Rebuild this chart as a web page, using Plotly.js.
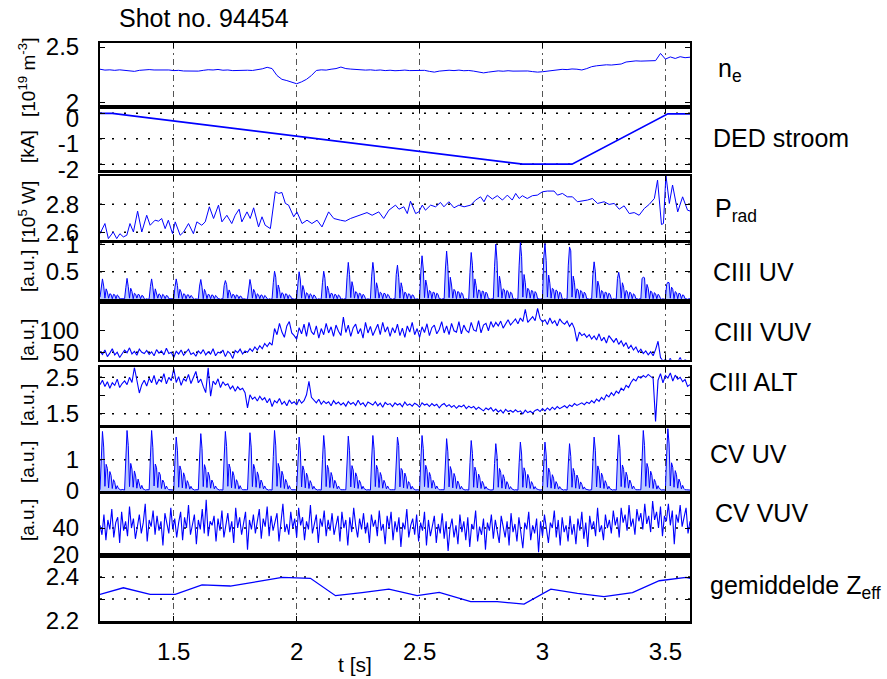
<!DOCTYPE html>
<html><head><meta charset="utf-8">
<script src="https://cdn.plot.ly/plotly-3.0.1.min.js"></script>
<style>html,body{margin:0;padding:0;background:#fff}</style>
</head><body><div id="chart" style="width:887px;height:679px"></div>
<script>
// ---------------- DATA ----------------
const T0 = 1.2;                       // first sample time [s]
const xTicks = [1.5, 2, 2.5, 3, 3.5];
const xTickText = ['1.5', '2', '2.5', '3', '3.5'];

// n_e [10^19 m^-3], sampled every 0.02 s
const neDt = 0.02;
const ne = [2.295,2.288,2.290,2.286,2.290,2.287,2.280,2.278,2.286,2.290,
2.292,2.289,2.291,2.287,2.289,2.284,2.286,2.281,2.279,2.283,
2.280,2.286,2.291,2.289,2.293,2.287,2.289,2.284,2.286,2.283,
2.287,2.285,2.290,2.298,2.310,2.300,2.245,2.215,2.205,2.190,
2.180,2.195,2.215,2.245,2.285,2.290,2.288,2.295,2.300,2.312,
2.300,2.296,2.292,2.294,2.288,2.290,2.286,2.289,2.284,2.287,
2.283,2.285,2.288,2.284,2.286,2.283,2.286,2.278,2.272,2.280,
2.285,2.287,2.284,2.288,2.283,2.285,2.280,2.272,2.266,2.272,
2.280,2.282,2.279,2.283,2.280,2.282,2.278,2.281,2.276,2.272,
2.275,2.280,2.286,2.290,2.294,2.292,2.297,2.295,2.289,2.300,
2.315,2.322,2.326,2.330,2.328,2.332,2.336,2.352,2.358,2.361,
2.359,2.362,2.360,2.363,2.420,2.375,2.392,2.380,2.394,2.386,
2.390];

// DED current [kA]
const dedT = [1.20, 1.25, 2.92, 3.12, 3.51, 3.60];
const dedKA = [0.00, 0.00, -2.00, -2.00, -0.02, -0.02];

// P_rad [10^5 W]
const pradT = [1.200,1.220,1.234,1.254,1.268,1.281,1.295,1.309,1.322,1.336,1.353,1.370,1.390,1.404,1.424,1.438,1.451,1.465,1.478,1.495,
1.506,1.526,1.540,1.560,1.580,1.594,1.614,1.628,1.645,1.662,1.682,1.696,1.716,1.736,1.750,1.766,1.777,1.798,1.811,1.825,
1.845,1.859,1.872,1.893,1.913,1.927,1.940,1.954,1.967,1.988,2.001,2.022,2.042,2.062,2.083,2.103,2.130,2.151,2.178,2.198,
2.219,2.239,2.266,2.286,2.307,2.334,2.354,2.375,2.402,2.416,2.436,2.450,2.463,2.484,2.497,2.511,2.524,2.545,2.565,2.585,
2.599,2.619,2.640,2.660,2.681,2.708,2.728,2.748,2.762,2.776,2.796,2.816,2.837,2.857,2.877,2.891,2.905,2.918,2.938,2.959,
2.979,3.000,3.020,3.047,3.061,3.081,3.101,3.122,3.142,3.163,3.183,3.203,3.224,3.251,3.271,3.292,3.312,3.332,3.353,3.373,
3.393,3.414,3.434,3.455,3.468,3.484,3.492,3.502,3.516,3.529,3.550,3.570,3.590,3.611];
const prad = [2.590,2.662,2.555,2.602,2.555,2.590,2.567,2.579,2.662,2.602,2.750,2.602,2.721,2.650,2.686,2.679,2.698,2.626,2.686,2.590,
2.674,2.579,2.602,2.662,2.590,2.674,2.650,2.674,2.781,2.698,2.793,2.674,2.721,2.662,2.721,2.764,2.674,2.745,2.698,2.774,
2.638,2.710,2.650,2.626,2.888,2.876,2.883,2.805,2.793,2.710,2.745,2.662,2.686,2.662,2.686,2.638,2.745,2.698,2.686,2.679,
2.698,2.710,2.726,2.740,2.721,2.745,2.698,2.757,2.793,2.764,2.781,2.733,2.821,2.733,2.745,2.793,2.757,2.793,2.781,2.812,
2.781,2.817,2.774,2.793,2.781,2.793,2.829,2.852,2.817,2.864,2.836,2.860,2.829,2.864,2.829,2.876,2.840,2.860,2.840,2.860,
2.864,2.888,2.893,2.893,2.864,2.876,2.852,2.852,2.817,2.821,2.829,2.840,2.805,2.817,2.798,2.805,2.764,2.788,2.733,2.740,
2.721,2.769,2.798,2.840,2.971,2.655,2.662,3.007,2.805,2.936,2.745,2.852,2.757,2.745];

// CIII UV and CV UV [a.u.], sampled every 0.005 s (one row = one 0.1 s pulse)
const pulseDt = 0.005;
const ciiiUV = [
0.04,0.22,0.37,0.24,0.02,0.19,0.13,0.02,0.10,0.09,0.01,0.09,0.08,0.01,0.08,0.06,0.01,0.01,0.01,0.00,
0.01,0.21,0.38,0.23,0.02,0.20,0.14,0.01,0.11,0.09,0.02,0.09,0.08,0.01,0.07,0.06,0.01,0.00,0.01,0.00,
0.01,0.23,0.37,0.22,0.01,0.19,0.12,0.02,0.10,0.08,0.01,0.09,0.07,0.01,0.07,0.06,0.01,0.01,0.00,0.01,
0.01,0.22,0.37,0.25,0.02,0.18,0.13,0.01,0.10,0.09,0.01,0.08,0.08,0.02,0.07,0.05,0.01,0.00,0.01,0.00,
0.01,0.24,0.36,0.22,0.01,0.18,0.12,0.01,0.09,0.08,0.01,0.08,0.07,0.01,0.07,0.05,0.01,0.01,0.00,0.01,
0.01,0.25,0.34,0.27,0.02,0.17,0.12,0.02,0.09,0.08,0.01,0.08,0.07,0.01,0.06,0.05,0.00,0.01,0.00,0.00,
0.01,0.26,0.36,0.24,0.02,0.18,0.13,0.01,0.10,0.08,0.01,0.08,0.07,0.01,0.07,0.05,0.01,0.00,0.01,0.00,
0.01,0.30,0.51,0.40,0.02,0.26,0.18,0.02,0.12,0.10,0.01,0.10,0.09,0.01,0.08,0.06,0.01,0.01,0.00,0.01,
0.01,0.28,0.50,0.35,0.02,0.25,0.17,0.01,0.12,0.10,0.01,0.10,0.08,0.01,0.08,0.06,0.01,0.00,0.01,0.00,
0.01,0.30,0.51,0.38,0.02,0.24,0.16,0.02,0.11,0.10,0.01,0.09,0.08,0.01,0.08,0.06,0.00,0.01,0.00,0.01,
0.01,0.40,0.67,0.45,0.03,0.32,0.22,0.02,0.14,0.12,0.01,0.11,0.10,0.01,0.09,0.07,0.01,0.00,0.01,0.00,
0.01,0.42,0.67,0.48,0.02,0.30,0.20,0.02,0.13,0.11,0.01,0.11,0.10,0.02,0.09,0.07,0.01,0.01,0.00,0.01,
0.01,0.45,0.62,0.40,0.02,0.30,0.20,0.01,0.13,0.11,0.01,0.10,0.09,0.01,0.08,0.07,0.01,0.00,0.01,0.00,
0.01,0.50,0.79,0.55,0.03,0.35,0.24,0.02,0.16,0.14,0.01,0.13,0.12,0.01,0.11,0.09,0.01,0.01,0.00,0.01,
0.01,0.55,0.875,0.60,0.03,0.40,0.26,0.02,0.18,0.15,0.01,0.14,0.13,0.02,0.12,0.10,0.01,0.00,0.01,0.00,
0.01,0.49,0.85,0.62,0.03,0.37,0.25,0.02,0.17,0.16,0.01,0.15,0.14,0.01,0.13,0.10,0.01,0.01,0.00,0.01,
0.01,0.60,1.00,0.70,0.04,0.42,0.28,0.02,0.19,0.17,0.01,0.16,0.14,0.02,0.13,0.11,0.01,0.00,0.01,0.00,
0.01,0.62,1.03,0.78,0.04,0.45,0.30,0.02,0.20,0.17,0.02,0.16,0.15,0.01,0.14,0.11,0.01,0.01,0.00,0.01,
0.01,0.75,1.01,0.70,0.04,0.44,0.29,0.02,0.20,0.18,0.01,0.17,0.15,0.01,0.13,0.11,0.01,0.00,0.01,0.00,
0.01,0.62,0.95,0.88,0.04,0.42,0.30,0.02,0.19,0.17,0.01,0.16,0.14,0.02,0.13,0.10,0.01,0.01,0.00,0.01,
0.01,0.45,0.68,0.50,0.03,0.33,0.24,0.02,0.16,0.14,0.01,0.13,0.12,0.01,0.11,0.09,0.01,0.00,0.01,0.00,
0.01,0.38,0.49,0.36,0.02,0.30,0.22,0.01,0.16,0.14,0.01,0.13,0.11,0.01,0.10,0.08,0.01,0.01,0.00,0.01,
0.01,0.38,0.40,0.39,0.02,0.27,0.20,0.01,0.15,0.13,0.01,0.12,0.10,0.01,0.09,0.07,0.01,0.00,0.01,0.00,
0.01,0.27,0.31,0.30,0.02,0.22,0.18,0.01,0.14,0.12,0.01,0.11,0.10,0.01,0.08,0.07,0.01,0.01,0.00,0.01,
0.01];
const cvUV = [
0.04,1.05,1.90,1.40,0.15,0.85,0.72,0.10,0.62,0.50,0.08,0.36,0.27,0.06,0.17,0.08,0.04,0.03,0.05,0.03,
0.03,1.00,1.93,1.45,0.14,0.88,0.70,0.12,0.64,0.48,0.09,0.38,0.26,0.07,0.18,0.07,0.05,0.03,0.04,0.03,
0.04,1.08,1.93,1.38,0.16,0.86,0.74,0.11,0.60,0.52,0.08,0.35,0.28,0.06,0.16,0.08,0.04,0.04,0.03,0.04,
0.03,0.98,1.72,1.30,0.12,0.80,0.66,0.10,0.58,0.45,0.08,0.33,0.24,0.06,0.15,0.07,0.04,0.03,0.04,0.03,
0.04,1.02,1.83,1.35,0.14,0.84,0.70,0.11,0.60,0.48,0.09,0.35,0.26,0.07,0.16,0.08,0.05,0.03,0.04,0.03,
0.03,1.05,1.90,1.42,0.15,0.86,0.72,0.10,0.62,0.49,0.08,0.36,0.27,0.06,0.17,0.08,0.04,0.04,0.03,0.04,
0.04,1.00,1.86,1.40,0.14,0.85,0.70,0.12,0.61,0.48,0.09,0.35,0.26,0.07,0.16,0.07,0.05,0.03,0.04,0.03,
0.03,1.10,1.93,1.44,0.15,0.88,0.73,0.11,0.63,0.50,0.08,0.37,0.27,0.06,0.17,0.08,0.04,0.04,0.03,0.04,
0.04,0.98,1.72,1.28,0.13,0.80,0.66,0.10,0.57,0.45,0.08,0.33,0.24,0.06,0.15,0.07,0.05,0.03,0.04,0.03,
0.03,1.00,1.77,1.32,0.14,0.82,0.68,0.11,0.59,0.46,0.09,0.34,0.25,0.07,0.16,0.08,0.04,0.04,0.03,0.04,
0.04,0.99,1.75,1.30,0.13,0.81,0.67,0.10,0.58,0.46,0.08,0.34,0.25,0.06,0.15,0.07,0.05,0.03,0.04,0.03,
0.03,1.02,1.77,1.33,0.14,0.82,0.68,0.11,0.59,0.47,0.09,0.34,0.25,0.07,0.16,0.08,0.04,0.04,0.03,0.04,
0.04,0.70,1.72,1.45,0.13,0.72,0.66,0.10,0.57,0.45,0.08,0.30,0.24,0.06,0.15,0.07,0.05,0.03,0.04,0.03,
0.03,0.95,1.77,1.35,0.14,0.82,0.68,0.11,0.59,0.46,0.09,0.34,0.25,0.07,0.16,0.08,0.04,0.04,0.03,0.04,
0.04,0.92,1.67,1.25,0.13,0.78,0.64,0.10,0.56,0.44,0.08,0.32,0.23,0.06,0.15,0.07,0.05,0.03,0.04,0.03,
0.03,0.90,1.61,1.20,0.12,0.76,0.62,0.10,0.54,0.42,0.08,0.31,0.23,0.06,0.14,0.07,0.04,0.04,0.03,0.04,
0.04,0.88,1.51,1.12,0.12,0.72,0.60,0.09,0.52,0.40,0.07,0.30,0.22,0.06,0.14,0.07,0.05,0.03,0.04,0.03,
0.03,0.90,1.56,1.18,0.12,0.74,0.61,0.10,0.53,0.41,0.08,0.30,0.22,0.06,0.14,0.07,0.04,0.04,0.03,0.04,
0.04,0.85,1.56,1.15,0.12,0.73,0.60,0.09,0.52,0.41,0.07,0.30,0.22,0.06,0.14,0.07,0.05,0.03,0.04,0.03,
0.03,0.86,1.51,1.10,0.12,0.72,0.59,0.09,0.51,0.40,0.07,0.29,0.21,0.06,0.13,0.06,0.04,0.04,0.03,0.04,
0.04,0.98,1.72,1.30,0.13,0.80,0.66,0.10,0.57,0.45,0.08,0.33,0.24,0.06,0.15,0.07,0.05,0.03,0.04,0.03,
0.03,1.02,1.79,1.35,0.14,0.83,0.69,0.11,0.60,0.47,0.09,0.35,0.25,0.07,0.16,0.08,0.04,0.04,0.03,0.04,
0.04,1.10,1.93,1.45,0.15,0.88,0.73,0.11,0.63,0.50,0.08,0.37,0.27,0.06,0.17,0.08,0.05,0.03,0.04,0.03,
0.03,1.15,1.99,1.50,0.16,0.90,0.75,0.12,0.65,0.52,0.09,0.38,0.28,0.07,0.18,0.08,0.04,0.04,0.03,0.04,
0.03];

// CIII VUV and CIII ALT [a.u.], sampled every 0.01 s
const sigDt = 0.01;
const ciiiVUV = [
52,45,55,40,48,58,44,50,38,47, 55,49,60,46,52,43,57,50,47,54,
45,51,42,56,48,53,44,59,47,50, 38,52,46,55,43,50,57,45,49,41,
53,47,56,44,51,46,58,42,50,48, 55,40,52,47,36,54,49,57,46,53,
50,58,52,62,55,65,58,70,63,72, 66,104,90,116,96,84,110,120,94,88,
80,106,92,114,86,118,97,90,110,82, 104,90,116,94,108,86,112,98,88,130,
95,112,86,106,114,92,104,82,118,94, 109,88,102,114,90,118,96,108,86,106,
94,114,88,105,84,110,96,118,90,104, 84,108,95,115,88,106,112,92,102,120,
94,110,90,116,99,96,120,92,112,100, 95,118,101,98,122,94,112,116,99,120,
107,118,110,121,105,116,124,112,119,126, 115,128,120,148,118,125,131,122,150,127,
119,124,113,128,116,122,110,126,118,114, 121,109,117,104,75,96,88,92,84,90,
80,87,78,92,76,84,71,88,79,73, 82,68,76,64,72,58,66,55,62,50,
57,47,53,44,51,42,56,75,38,30, 34,27,36,24,31,28,38,25,33,29,26];
const ciiiALT = [
2.30,2.42,2.25,2.38,2.20,2.35,2.28,2.45,2.22,2.33, 2.40,2.30,2.50,2.36,2.77,2.45,2.07,2.30,2.42,2.26,
2.48,2.35,2.55,2.30,2.44,2.38,2.60,2.32,2.50,2.41, 2.74,2.36,2.52,2.28,2.46,2.40,2.58,2.33,2.48,2.66,
2.35,2.45,2.25,2.08,2.76,1.98,2.40,2.30,2.46,2.22, 2.38,2.28,2.32,2.18,2.26,2.12,2.24,2.16,2.20,2.08,
1.66,2.02,1.90,1.96,1.85,1.98,1.88,1.94,1.80,1.92, 1.70,1.86,1.80,1.92,1.76,1.84,1.72,1.88,1.78,1.83,
1.74,1.90,1.79,1.86,2.02,2.39,1.95,1.88,1.80,1.90, 1.76,1.85,1.78,1.83,1.72,1.86,1.77,1.82,1.74,1.80,
1.71,1.84,1.76,1.81,1.73,1.87,1.75,1.80,1.70,1.82, 1.77,1.74,1.83,1.72,1.79,1.68,1.81,1.75,1.78,1.70,
1.80,1.74,1.78,1.69,1.82,1.73,1.77,1.71,1.79,1.75, 1.68,1.80,1.74,1.77,1.70,1.78,1.72,1.76,1.66,1.74,
1.78,1.70,1.75,1.68,1.73,1.65,1.72,1.69,1.74,1.64, 1.71,1.66,1.70,1.62,1.68,1.64,1.58,1.66,1.61,1.67,
1.57,1.63,1.55,1.60,1.52,1.62,1.56,1.59,1.54,1.61, 1.55,1.58,1.50,1.60,1.53,1.57,1.52,1.59,1.62,1.56,
1.64,1.58,1.66,1.60,1.68,1.62,1.70,1.64,1.67,1.72, 1.66,1.74,1.70,1.78,1.73,1.76,1.80,1.75,1.82,1.78,
1.86,1.80,1.90,1.84,1.95,1.88,2.02,1.96,2.08,2.00, 2.12,2.06,2.20,2.14,2.28,2.22,2.36,2.45,2.40,2.52,
2.48,2.55,2.50,2.58,2.52,2.47,1.29,2.42,2.60,2.35, 2.55,2.48,2.62,2.40,2.56,2.45,2.50,2.38,2.44,2.25,2.30];

// CV VUV [a.u.], sampled every 0.008 s
const cvVuvDt = 0.008;
const cvVUV = [
42,35,50,31,46,39,54,33,44,48,29,52,38,45,34,56,40,47,32,43,
50,36,44,58,30,46,41,53,35,49,38,45,27,51,42,36,55,39,47,33,
44,52,31,48,40,57,35,43,50,28,46,39,54,36,61,34,45,42,49,30,
47,38,53,33,44,51,37,45,29,55,40,48,35,43,52,24,46,39,50,36,
45,54,32,47,41,56,34,49,38,44,51,30,46,58,37,43,35,52,40,47,
33,55,42,48,31,45,39,57,36,44,50,29,47,41,53,34,46,38,51,35,
43,49,30,52,40,46,27,48,37,55,42,33,47,39,51,36,44,29,50,41,
46,34,53,38,43,28,49,40,52,31,45,37,48,26,44,39,54,33,42,47,
35,50,30,44,38,52,27,46,34,41,49,29,43,36,51,32,45,23,40,47,
33,42,28,50,37,45,31,48,26,43,39,53,30,41,35,47,24,44,38,50,
32,46,36,29,49,40,33,45,27,51,37,43,30,48,35,25,44,39,52,31,
42,36,47,22,45,34,50,38,29,44,40,53,33,46,27,48,37,42,30,49,
35,43,28,47,38,52,32,44,26,49,39,45,34,55,37,42,31,50,40,46,
36,53,42,48,33,55,44,50,38,57,41,47,35,54,45,51,39,58,43,49,
37,60,46,52,40,56,34,49,45,58,42,53,28,50,44,57,41,48,55,36,45];

// average Z_eff
const zeffT = [1.20,1.295,1.404,1.506,1.615,1.73,1.839,1.941,2.056,2.158,2.266,2.375,2.49,2.58,2.708,2.816,2.925,3.034,3.142,3.25,3.366,3.475,3.584,3.61];
const zeff  = [2.321,2.351,2.321,2.321,2.364,2.359,2.379,2.398,2.394,2.315,2.329,2.345,2.315,2.33,2.288,2.288,2.277,2.345,2.326,2.311,2.329,2.383,2.398,2.392];

// labels
const titleText = 'Shot no. 94454';
const rightLabels = ['n<sub>e</sub>', 'DED stroom', 'P<sub>rad</sub>', 'CIII UV', 'CIII VUV', 'CIII ALT', 'CV UV', 'CV VUV', 'gemiddelde Z<sub>eff</sub>'];
const unitLabels = ['[10<sup>19</sup> m<sup>-3</sup>]', '[kA]', '[10<sup>5</sup> W]', '[a.u.]', '[a.u.]', '[a.u.]', '[a.u.]', '[a.u.]', ''];
const yTickVals = [[2.03, 2.47], [-2, -1, 0], [2.6, 2.8], [0.5, 1], [50, 100], [1.5, 2, 2.5], [0, 1], [20, 40], [2.2, 2.3, 2.4]];
const yTickText = [['2', '2.5'], ['-2', '-1', '0'], ['2.6', '2.8'], ['0.5', '1'], ['50', '100'], ['1.5', '', '2.5'], ['0', '1'], ['20', '40'], ['2.2', '', '2.4']];
const yGridVals = [[], [-2, -1, 0], [2.6, 2.8], [0.5, 1], [50], [1.5, 2.5], [1], [40], [2.3, 2.4]];

// ---------------- LAYOUT (geometry / style) ----------------
const W = 887, H = 679, L = 100, R = 690;
const panelPx = [[43.3,106.5],[107.5,170],[176,240.3],[242,299.3],[304,359.7],[367.3,424.7],[428.3,491],[494.3,555],[555,621]];
const yRanges = [[2,2.5],[-2.23,0.23],[2.543,3.0],[0,1.04],[33,160],[1.2,2.775],[0,2.0],[20,65],[2.2,2.5]];
const labelShift = [0, 5, 0, 0, 0, 0, 0, 0, 0];
const labelPx = [[716,70],[710.7,138],[713,210],[710.7,272],[711.7,332],[706.7,382],[708.3,454],[713.3,513],[708.3,587]];
const unitPy = [78,147,212,271,340,405,462,520,0];

const FONT = 'Liberation Sans, Arial, sans-serif';
const BLUE = '#0000ff';
const px2x = p => (p - L) / (R - L);
const py2y = p => 1 - p / H;

const layout = {
  width: W, height: H, showlegend: false,
  margin: {l: L, r: W - R, t: 0, b: 0},
  paper_bgcolor: '#fff', plot_bgcolor: '#fff',
  font: {family: FONT, color: '#000', size: 24},
  shapes: [], annotations: []
};

for (let i = 0; i < 9; i++) {
  const n = i === 0 ? '' : String(i + 1);
  layout['xaxis' + n] = {
    domain: [0, 1], range: [T0, 3.6], anchor: 'y' + n,
    tickvals: xTicks, ticktext: xTickText, showticklabels: i === 8,
    ticks: 'inside', ticklen: 5, tickwidth: 1, tickcolor: '#000',
    showline: true, linecolor: '#000', linewidth: 2.5, mirror: 'ticks',
    showgrid: true, gridcolor: '#555', gridwidth: 1, griddash: '6px,4px,2px,4px',
    zeroline: false, tickfont: {size: 24}, ticklabelstandoff: 8
  };
  layout['yaxis' + n] = {
    domain: [py2y(panelPx[i][1]), py2y(panelPx[i][0])], range: yRanges[i], anchor: 'x' + n,
    tickvals: yTickVals[i], ticktext: yTickText[i],
    ticks: 'inside', ticklen: 5, tickwidth: 1, tickcolor: '#000',
    showline: true, linecolor: '#000', linewidth: 2, mirror: 'ticks',
    showgrid: false, zeroline: false, tickfont: {size: 24}, ticklabelstandoff: 14,
    ticklabelshift: labelShift[i]
  };
  yGridVals[i].forEach(g => layout.shapes.push({
    type: 'line', xref: 'x' + n + ' domain', x0: 0, x1: 1, yref: 'y' + n, y0: g, y1: g,
    line: {color: '#000', width: 1.5, dash: '2px,10px'}, layer: 'below'
  }));
  layout.annotations.push({
    xref: 'paper', yref: 'paper', x: px2x(labelPx[i][0]), y: py2y(labelPx[i][1]),
    xanchor: 'left', yanchor: 'middle', text: rightLabels[i], showarrow: false,
    font: {size: 25, family: FONT}
  });
  if (unitLabels[i]) layout.annotations.push({
    xref: 'paper', yref: 'paper', x: px2x(27), y: py2y(unitPy[i]),
    xanchor: 'center', yanchor: 'middle', text: unitLabels[i], textangle: -90, showarrow: false,
    font: {size: 19, family: FONT}
  });
}
layout.annotations.push({xref: 'paper', yref: 'paper', x: px2x(117), y: py2y(18), xanchor: 'left', yanchor: 'middle',
  text: titleText, showarrow: false, font: {size: 25, family: FONT}});
layout.annotations.push({xref: 'paper', yref: 'paper', x: px2x(355), y: py2y(664), xanchor: 'center', yanchor: 'middle',
  text: 't [s]', showarrow: false, font: {size: 21, family: FONT}});

// ---------------- TRACES ----------------
const line = (w) => ({color: BLUE, width: w});
const FILL = 'rgba(120,150,255,0.5)';
const traces = [
  {y: ne, x0: T0, dx: neDt, xaxis: 'x', yaxis: 'y', mode: 'lines', line: line(1)},
  {x: dedT, y: dedKA, xaxis: 'x2', yaxis: 'y2', mode: 'lines', line: line(1.6)},
  {x: pradT, y: prad, xaxis: 'x3', yaxis: 'y3', mode: 'lines', line: line(1)},
  {y: ciiiUV, x0: T0, dx: pulseDt, xaxis: 'x4', yaxis: 'y4', mode: 'lines', line: line(1),
   fill: 'tozeroy', fillcolor: FILL},
  {y: ciiiVUV, x0: T0, dx: sigDt, xaxis: 'x5', yaxis: 'y5', mode: 'lines', line: line(1.1)},
  {y: ciiiALT, x0: T0, dx: sigDt, xaxis: 'x6', yaxis: 'y6', mode: 'lines', line: line(1.1)},
  {y: cvUV, x0: T0, dx: pulseDt, xaxis: 'x7', yaxis: 'y7', mode: 'lines', line: line(1),
   fill: 'tozeroy', fillcolor: FILL},
  {y: cvVUV, x0: T0, dx: cvVuvDt, xaxis: 'x8', yaxis: 'y8', mode: 'lines', line: line(1.1)},
  {x: zeffT, y: zeff, xaxis: 'x9', yaxis: 'y9', mode: 'lines', line: line(1.3)}
];
traces.forEach(t => { t.type = 'scatter'; t.hoverinfo = 'skip'; });

Plotly.newPlot('chart', traces, layout, {staticPlot: true, displayModeBar: false});
</script>
</body></html>
